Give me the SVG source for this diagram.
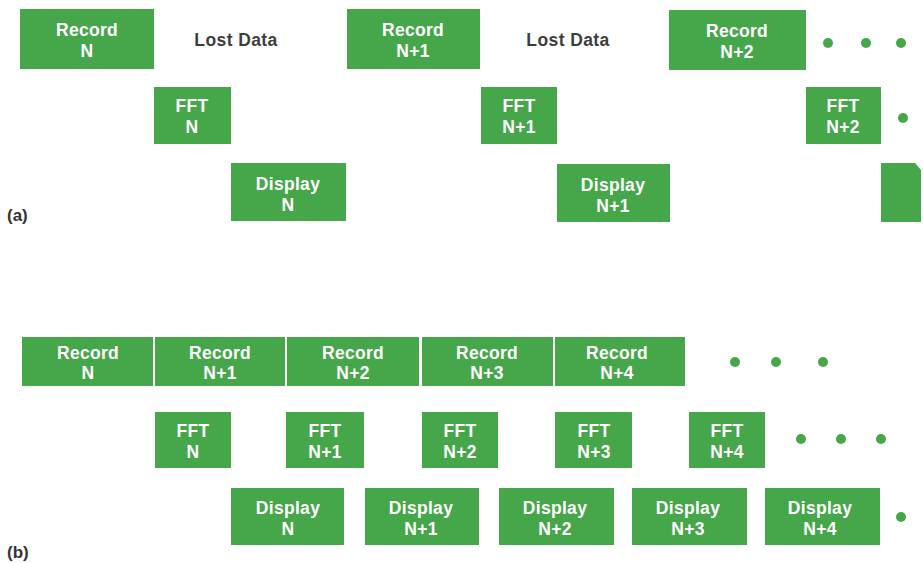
<svg xmlns="http://www.w3.org/2000/svg" width="923" height="563" viewBox="0 0 923 563">
  <style>
    .box { fill: #46a64a; }
    .lbl { font-family: "Liberation Sans", Arial, Helvetica, sans-serif; font-weight: bold; font-size: 17.5px; fill: #ffffff; text-anchor: middle; letter-spacing: 0.3px; }
    .lost { font-family: "Liberation Sans", Arial, Helvetica, sans-serif; font-weight: bold; font-size: 17.5px; fill: #3e3e3e; text-anchor: middle; letter-spacing: 0.4px; }
    .tag { font-family: "Liberation Sans", Arial, Helvetica, sans-serif; font-weight: bold; font-size: 17px; fill: #333333; }
    .dot { fill: #46a64a; }
  </style>
  <rect width="923" height="563" fill="#ffffff"/>

  <!-- (a) sequential processing: record, FFT and display each wait for the previous step -->
  <g id="a-record-n"><rect class="box" x="20" y="9" width="134" height="60"/><text class="lbl" x="87" y="36">Record</text><text class="lbl" x="87" y="57">N</text></g>
  <g id="a-lost-1"><text class="lost" x="236" y="46">Lost Data</text></g>
  <g id="a-record-n1"><rect class="box" x="347" y="9" width="133" height="60"/><text class="lbl" x="413" y="36">Record</text><text class="lbl" x="413" y="57">N+1</text></g>
  <g id="a-lost-2"><text class="lost" x="568" y="46">Lost Data</text></g>
  <g id="a-record-n2"><rect class="box" x="669" y="10" width="137" height="60"/><text class="lbl" x="737" y="37">Record</text><text class="lbl" x="737" y="58">N+2</text></g>
  <g id="a-more-1"><circle class="dot" cx="828" cy="43" r="5"/><circle class="dot" cx="866" cy="43" r="5"/><circle class="dot" cx="901" cy="43" r="5"/></g>

  <g id="a-fft-n"><rect class="box" x="154" y="87" width="77" height="57"/><text class="lbl" x="192" y="112">FFT</text><text class="lbl" x="192" y="133">N</text></g>
  <g id="a-fft-n1"><rect class="box" x="481" y="87" width="76" height="57"/><text class="lbl" x="519" y="112">FFT</text><text class="lbl" x="519" y="133">N+1</text></g>
  <g id="a-fft-n2"><rect class="box" x="806" y="87" width="75" height="57"/><text class="lbl" x="843" y="112">FFT</text><text class="lbl" x="843" y="133">N+2</text></g>
  <g id="a-more-2"><circle class="dot" cx="903" cy="118" r="5"/></g>

  <g id="a-display-n"><rect class="box" x="231" y="163" width="115" height="58"/><text class="lbl" x="288" y="190">Display</text><text class="lbl" x="288" y="211">N</text></g>
  <g id="a-display-n1"><rect class="box" x="557" y="164" width="113" height="58"/><text class="lbl" x="613" y="191">Display</text><text class="lbl" x="613" y="212">N+1</text></g>
  <g id="a-display-n2"><path class="box" d="M881,163 H915 L921,170 V222 H881 Z"/></g>

  <g id="a-tag"><text class="tag" x="7" y="221">(a)</text></g>

  <!-- (b) overlapped processing: recording runs continuously -->
  <g id="b-record-n"><rect class="box" x="22" y="337" width="131" height="49"/><text class="lbl" x="88" y="359">Record</text><text class="lbl" x="88" y="379">N</text></g>
  <g id="b-record-n1"><rect class="box" x="155" y="337" width="130" height="49"/><text class="lbl" x="220" y="359">Record</text><text class="lbl" x="220" y="379">N+1</text></g>
  <g id="b-record-n2"><rect class="box" x="287" y="337" width="132" height="49"/><text class="lbl" x="353" y="359">Record</text><text class="lbl" x="353" y="379">N+2</text></g>
  <g id="b-record-n3"><rect class="box" x="422" y="337" width="131" height="49"/><text class="lbl" x="487" y="359">Record</text><text class="lbl" x="487" y="379">N+3</text></g>
  <g id="b-record-n4"><rect class="box" x="555" y="337" width="130" height="49"/><text class="lbl" x="617" y="359">Record</text><text class="lbl" x="617" y="379">N+4</text></g>
  <g id="b-more-1"><circle class="dot" cx="735" cy="362" r="5"/><circle class="dot" cx="776" cy="362" r="5"/><circle class="dot" cx="823" cy="362" r="5"/></g>

  <g id="b-fft-n"><rect class="box" x="155" y="412" width="76" height="56"/><text class="lbl" x="193" y="437">FFT</text><text class="lbl" x="193" y="458">N</text></g>
  <g id="b-fft-n1"><rect class="box" x="286" y="412" width="78" height="56"/><text class="lbl" x="325" y="437">FFT</text><text class="lbl" x="325" y="458">N+1</text></g>
  <g id="b-fft-n2"><rect class="box" x="422" y="412" width="76" height="56"/><text class="lbl" x="460" y="437">FFT</text><text class="lbl" x="460" y="458">N+2</text></g>
  <g id="b-fft-n3"><rect class="box" x="555" y="412" width="77" height="56"/><text class="lbl" x="594" y="437">FFT</text><text class="lbl" x="594" y="458">N+3</text></g>
  <g id="b-fft-n4"><rect class="box" x="689" y="412" width="76" height="56"/><text class="lbl" x="727" y="437">FFT</text><text class="lbl" x="727" y="458">N+4</text></g>
  <g id="b-more-2"><circle class="dot" cx="801" cy="439" r="5"/><circle class="dot" cx="841" cy="439" r="5"/><circle class="dot" cx="881" cy="439" r="5"/></g>

  <g id="b-display-n"><rect class="box" x="231" y="488" width="113" height="57"/><text class="lbl" x="288" y="514">Display</text><text class="lbl" x="288" y="535">N</text></g>
  <g id="b-display-n1"><rect class="box" x="365" y="488" width="114" height="57"/><text class="lbl" x="421" y="514">Display</text><text class="lbl" x="421" y="535">N+1</text></g>
  <g id="b-display-n2"><rect class="box" x="499" y="488" width="115" height="57"/><text class="lbl" x="555" y="514">Display</text><text class="lbl" x="555" y="535">N+2</text></g>
  <g id="b-display-n3"><rect class="box" x="632" y="488" width="115" height="57"/><text class="lbl" x="688" y="514">Display</text><text class="lbl" x="688" y="535">N+3</text></g>
  <g id="b-display-n4"><rect class="box" x="765" y="488" width="115" height="57"/><text class="lbl" x="820" y="514">Display</text><text class="lbl" x="820" y="535">N+4</text></g>
  <g id="b-more-3"><circle class="dot" cx="901" cy="517" r="5"/></g>

  <g id="b-tag"><text class="tag" x="7" y="558">(b)</text></g>
</svg>
